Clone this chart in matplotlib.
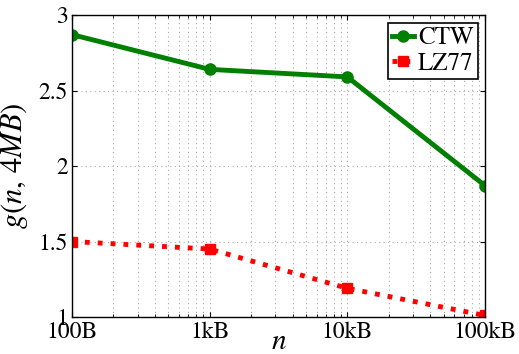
import matplotlib
matplotlib.use("Agg")
import matplotlib.pyplot as plt

# block sizes in bytes
sizes = [100, 1000, 10000, 100000]
size_labels = ["100B", "1kB", "10kB", "100kB"]
ctw = [2.87, 2.64, 2.59, 1.87]
lz77 = [1.50, 1.45, 1.19, 1.01]

plt.rcParams["font.family"] = ["STIXGeneral", "DejaVu Serif"]
plt.rcParams["mathtext.fontset"] = "stix"

fig = plt.figure(figsize=(5.19, 3.54), dpi=100)
ax = fig.add_axes([72 / 519, 37 / 354, 413 / 519, 302 / 354])

ax.plot(sizes, ctw, color="#007f00", lw=3.5, marker="o", ms=8, label="CTW")
ax.plot(sizes, lz77, color="red", lw=3.5, ls=":", marker="s", ms=7, label="LZ77")

ax.set_xscale("log")
ax.set_xlim(100, 100000)
ax.set_ylim(1, 3)
ax.set_xticks(sizes)
ax.set_xticklabels(size_labels)
ax.set_yticks([1, 1.5, 2, 2.5, 3])
ax.set_yticklabels(["1", "1.5", "2", "2.5", "3"])
ax.tick_params(direction="in", labelsize=17, which="both", top=True, right=True, pad=3)
ax.tick_params(which="minor", length=2)

ax.grid(True, which="major", ls=(0, (1, 3)), color="#aaaaaa", lw=0.8)
ax.grid(True, which="minor", axis="x", ls=(0, (1, 3)), color="#aaaaaa", lw=0.8)

ax.set_xlabel("$n$", fontsize=21, labelpad=-9)
ax.set_ylabel("$g(n,\\,4MB)$", fontsize=22, labelpad=6)

for s in ax.spines.values():
    s.set_linewidth(1.0)

leg = ax.legend(loc="upper right", fontsize=18, fancybox=False, framealpha=1,
                edgecolor="black", handlelength=0.9, borderpad=0.15,
                labelspacing=0.05, handletextpad=0.15, borderaxespad=0.3)
leg.get_frame().set_linewidth(1.2)

fig.savefig("out.png", dpi=100)
